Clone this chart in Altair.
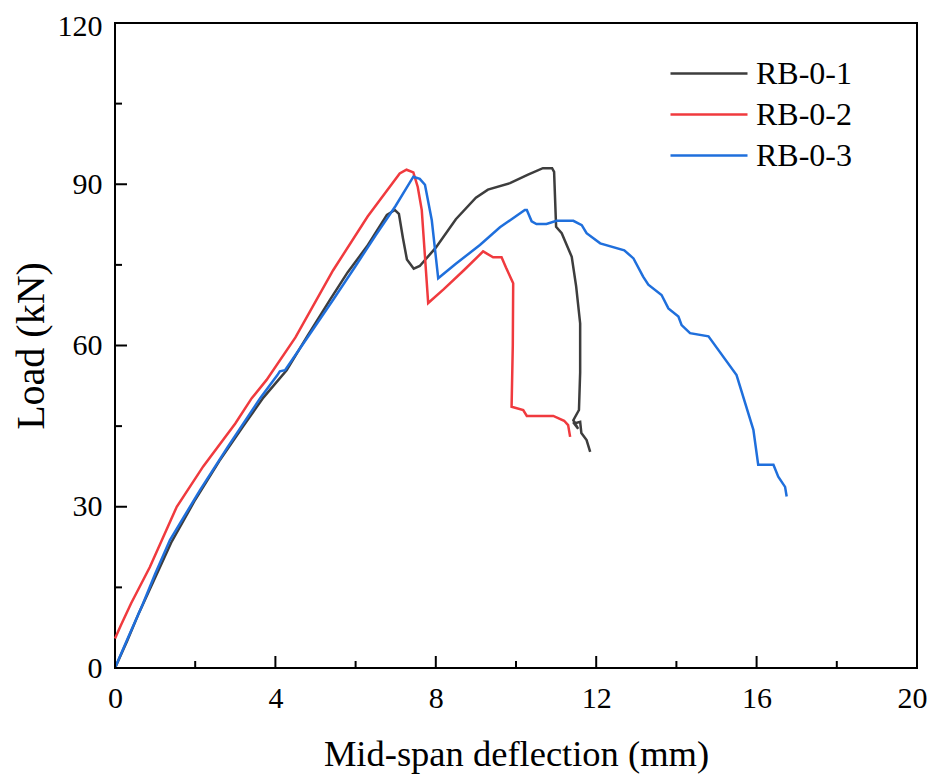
import altair as alt
import pandas as pd

series = ["RB-0-1", "RB-0-2", "RB-0-3"]
colors = ["#3d3d3d", "#f03a3e", "#1f6fdc"]

rb1_x = [0, 0.3, 0.6, 1.0, 1.4, 2.0, 2.6, 3.2, 3.7, 4.28, 4.8, 5.36, 5.8, 6.28, 6.78, 6.98,
         7.08, 7.18, 7.28, 7.45, 7.6, 8.0, 8.5, 9.0, 9.3, 9.85, 10.3, 10.67, 10.9, 10.95,
         11.0, 11.14, 11.39, 11.5, 11.6, 11.6, 11.57, 11.43, 11.55, 11.45, 11.6, 11.63, 11.76, 11.85]
rb1_y = [0, 5.0, 10.3, 16.8, 23.3, 31.3, 38.5, 45.0, 50.3, 55.4, 61.8, 68.5, 73.6, 78.4, 84.3, 85.2,
         84.5, 80.0, 76.0, 74.3, 74.8, 78.2, 83.5, 87.5, 89.0, 90.2, 91.8, 93.0, 93.0, 92.3,
         82.1, 80.9, 76.5, 71.0, 64.1, 55.0, 48.0, 46.1, 44.5, 45.5, 45.8, 43.7, 42.4, 40.2]

rb2_x = [0, 0.15, 0.4, 0.87, 1.54, 2.2, 3.0, 3.41, 3.78, 4.5, 5.44, 6.3, 7.1, 7.27, 7.44,
         7.55, 7.65, 7.81, 8.2, 8.7, 9.18, 9.43, 9.64, 9.75, 9.93, 9.92, 9.89, 10.18, 10.27,
         10.93, 11.2, 11.3, 11.35]
rb2_y = [5.5, 8.0, 12.0, 18.8, 30.0, 37.5, 45.5, 50.2, 53.6, 61.5, 74.0, 84.0, 92.0, 92.7, 92.2,
         89.5, 85.2, 67.9, 70.5, 74.0, 77.5, 76.4, 76.4, 74.5, 71.6, 60.0, 48.6, 48.0, 46.9,
         46.9, 46.0, 45.2, 43.0]

rb3_x = [0, 0.3, 0.7, 1.0, 1.37, 2.12, 2.8, 3.62, 4.05, 4.11, 4.24, 4.8, 5.44, 6.0, 6.5, 7.0,
         7.44, 7.6, 7.73, 7.9, 8.06, 8.5, 9.1, 9.6, 10.22, 10.27, 10.39, 10.51, 10.76, 11.01,
         11.43, 11.64, 11.76, 12.1, 12.7, 12.93, 13.17, 13.3, 13.63, 13.8, 14.05, 14.13, 14.34,
         14.8, 15.5, 15.92, 16.04, 16.42, 16.54, 16.71, 16.75]
rb3_y = [0, 5.2, 12.0, 17.5, 23.8, 33.1, 41.0, 50.2, 54.5, 55.2, 55.4, 61.5, 68.5, 74.8, 80.5, 86.0,
         91.4, 91.0, 89.9, 83.3, 72.5, 75.2, 78.7, 82.0, 85.2, 85.2, 83.1, 82.6, 82.6, 83.2,
         83.2, 82.4, 80.9, 79.0, 77.7, 76.2, 72.8, 71.3, 69.4, 66.9, 65.4, 63.8, 62.3,
         61.7, 54.5, 44.3, 37.8, 37.8, 35.6, 33.7, 31.9]

x_major = [0, 4, 8, 12, 16, 20]
x_minor = [2, 6, 10, 14, 18]
y_major = [0, 30, 60, 90, 120]
y_minor = [15, 45, 75, 105]

rows = []
for name, xs, ys in zip(series, [rb1_x, rb2_x, rb3_x], [rb1_y, rb2_y, rb3_y]):
    for i, (a, b) in enumerate(zip(xs, ys)):
        rows.append({"series": name, "x": a, "y": b, "i": i})
df = pd.DataFrame(rows)

font = "Liberation Serif"
W, H = 802, 645
xscale = alt.Scale(domain=[0, 20], nice=False)
yscale = alt.Scale(domain=[0, 120], nice=False)

xaxis = alt.Axis(
    values=x_major, ticks=False, tickSize=0, domain=False, grid=False, labelFlush=False,
    labelFont=font, labelFontSize=30, labelColor="black", labelPadding=15,
    labelOffset={"condition": {"test": "datum.value == 20", "value": -5}, "value": 0},
    title="Mid-span deflection (mm)", titleFont=font, titleFontSize=36.5,
    titleFontWeight="normal", titleColor="black", titleBaseline="alphabetic", titleY=97)
yaxis = alt.Axis(
    values=y_major, ticks=False, tickSize=0, domain=False, grid=False, labelFlush=False,
    labelFont=font, labelFontSize=30, labelColor="black", labelPadding=13,
    labelOffset={"condition": {"test": "datum.value == 120", "value": 3}, "value": 0},
    title="Load (kN)", titleFont=font, titleFontSize=40,
    titleFontWeight="normal", titleColor="black", titleBaseline="alphabetic", titleX=-72)

lines = alt.Chart(df).mark_line(strokeWidth=2.5).encode(
    x=alt.X("x:Q", scale=xscale, axis=xaxis, title="Mid-span deflection (mm)"),
    y=alt.Y("y:Q", scale=yscale, axis=yaxis, title="Load (kN)"),
    color=alt.Color("series:N", scale=alt.Scale(domain=series, range=colors), legend=alt.Legend(
        title=None, orient="none", legendX=554, legendY=30, symbolType="stroke",
        symbolSize=5929, symbolStrokeWidth=2.5, labelFont=font, labelFontSize=32,
        labelColor="black", labelOffset=7, clipHeight=41, rowPadding=0, padding=0)),
    order="i:Q",
)

def xticks(vals, length):
    return alt.Chart(pd.DataFrame({"x": vals})).mark_rule(color="black", strokeWidth=2).encode(
        x=alt.X("x:Q", scale=xscale, axis=xaxis, title="Mid-span deflection (mm)"),
        y=alt.value(H), y2=alt.value(H - length))

def yticks(vals, length):
    return alt.Chart(pd.DataFrame({"y": vals})).mark_rule(color="black", strokeWidth=2).encode(
        y=alt.Y("y:Q", scale=yscale, axis=yaxis, title="Load (kN)"),
        x=alt.value(0), x2=alt.value(length))

chart = alt.layer(
    lines, xticks(x_major, 12), xticks(x_minor, 7), yticks(y_major, 12), yticks(y_minor, 7)
).properties(
    width=W, height=H,
    background="white",
    autosize=alt.AutoSizeParams(type="none"),
    padding={"left": 107, "top": 15, "right": 12, "bottom": 110},
).configure_view(stroke="black", strokeWidth=2)

chart.save("out.html", embed_options={"renderer": "svg", "actions": False})
